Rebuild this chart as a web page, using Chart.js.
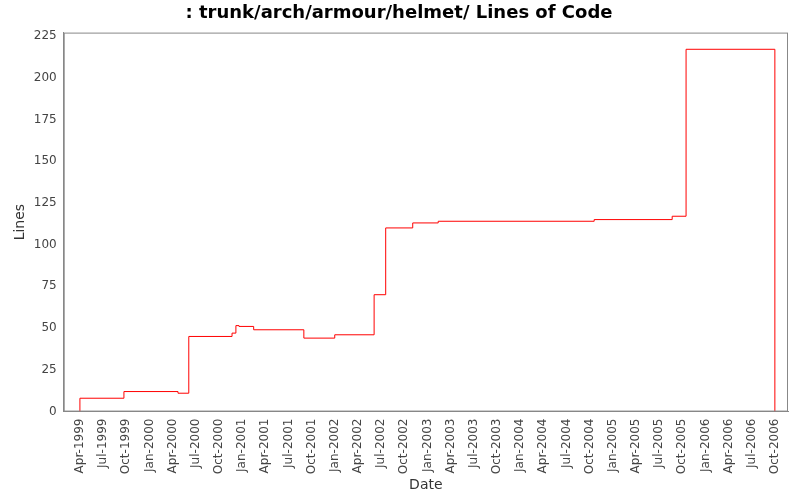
<!DOCTYPE html>
<html><head><script src="https://cdn.jsdelivr.net/npm/chart.js@4"></script>
<style>body{margin:0;background:#fff}#w{width:800px;height:500px}</style></head>
<body><div id="w"><canvas id="c"></canvas></div>
<script>
// x = months since Apr-1999
const months = [0, 0, 5.7, 12.7, 14.1, 19.7, 20.2, 20.6, 22.5, 29.0, 33.0, 38.1, 39.6, 43.1, 46.4, 66.6, 76.7, 78.5, 90, 90];
const lines  = [0, 8, 12, 11, 45, 47, 51.5, 51, 49, 44, 46, 70, 110, 113, 114, 115, 117, 217, 217, 0];
const tickLabels = ["Apr-1999","Jul-1999","Oct-1999","Jan-2000","Apr-2000","Jul-2000","Oct-2000","Jan-2001","Apr-2001","Jul-2001","Oct-2001","Jan-2002","Apr-2002","Jul-2002","Oct-2002","Jan-2003","Apr-2003","Jul-2003","Oct-2003","Jan-2004","Apr-2004","Jul-2004","Oct-2004","Jan-2005","Apr-2005","Jul-2005","Oct-2005","Jan-2006","Apr-2006","Jul-2006","Oct-2006"];
const pts = months.map((m,i)=>({x:m,y:lines[i]}));
new Chart(document.getElementById('c'),{
  type:'line',
  data:{datasets:[{data:pts,borderColor:'#ff0000',borderWidth:1,pointRadius:0,stepped:'before',fill:false}]},
  options:{responsive:true,maintainAspectRatio:false,animation:false,
    layout:{padding:{left:10,right:12,top:0,bottom:6}},
    plugins:{legend:{display:false},tooltip:{enabled:false},
      title:{display:true,text:': trunk/arch/armour/helmet/ Lines of Code',color:'#000',font:{family:'DejaVu Sans',size:18,weight:'bold'},padding:{top:3,bottom:8}}},
    scales:{
      x:{type:'linear',min:-2.1,max:91.7,
        afterBuildTicks:ax=>{ax.ticks=tickLabels.map((t,i)=>({value:i*3}));},
        ticks:{autoSkip:false,maxRotation:90,minRotation:90,color:'#444',font:{family:'DejaVu Sans',size:12},callback:(v)=>tickLabels[Math.round(v/3)]},
        grid:{display:false,drawTicks:true,tickLength:4,color:'#888'},border:{color:'#888'},
        title:{display:true,text:'Date',color:'#333',font:{family:'DejaVu Sans',size:14},padding:0}},
      y:{min:0,max:227,
        afterBuildTicks:ax=>{ax.ticks=[0,25,50,75,100,125,150,175,200,225].map(v=>({value:v}));},
        ticks:{color:'#444',font:{family:'DejaVu Sans',size:12}},
        grid:{display:false,tickLength:4,color:'#888'},border:{color:'#888'},
        title:{display:true,text:'Lines',color:'#333',font:{family:'DejaVu Sans',size:14},padding:2}}
    }},
  plugins:[{id:'frame',afterDraw(c){const a=c.chartArea,x=c.ctx;x.save();x.strokeStyle='#888';x.lineWidth=1;x.strokeRect(a.left+0.5,a.top+0.5,a.width-1,a.height-1);x.restore();}}]
});
</script></body></html>
